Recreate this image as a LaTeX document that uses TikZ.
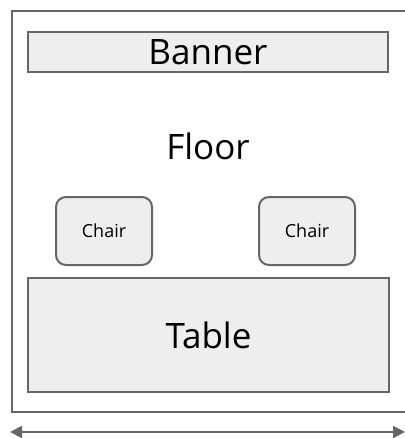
\documentclass[tikz,border=0pt]{standalone}
\usepackage{fontspec}
\setmainfont{Open Sans}
\usetikzlibrary{arrows.meta}
\definecolor{edgegray}{HTML}{666666}
\definecolor{panelgray}{HTML}{EEEEEE}
\tikzset{
  part/.style={draw=edgegray, line width=2pt, fill=panelgray, inner sep=0pt},
  bigtext/.style={font=\fontsize{35}{40}\selectfont},
  chairbox/.style={part, rounded corners=10pt, minimum width=96pt, minimum height=68pt, font=\fontsize{18}{22}\selectfont}
}
\begin{document}
\begin{tikzpicture}[x=1pt,y=-1pt]
\useasboundingbox (0,0) rectangle (404,438);
\node (room) [draw=edgegray, line width=2pt, inner sep=0pt, anchor=north west, minimum width=398pt, minimum height=401pt] at (11,10) {};
\node (banner) [part, bigtext, minimum width=360pt, minimum height=40pt] at (208,52) {Banner};
\node (floor) [bigtext] at (208,146) {Floor};
\node (chairL) [chairbox] at (104,231) {Chair};
\node (chairR) [chairbox] at (307,231) {Chair};
\node (table) [part, bigtext, minimum width=361pt, minimum height=114pt] at (208.5,335) {Table};
\coordinate (widthL) at (10,432);
\coordinate (widthR) at (405,432);
\draw[edgegray, line width=2pt, {Triangle[length=12pt,width=12pt]}-{Triangle[length=12pt,width=12pt]}] (widthL) -- (widthR);
\end{tikzpicture}
\end{document}
